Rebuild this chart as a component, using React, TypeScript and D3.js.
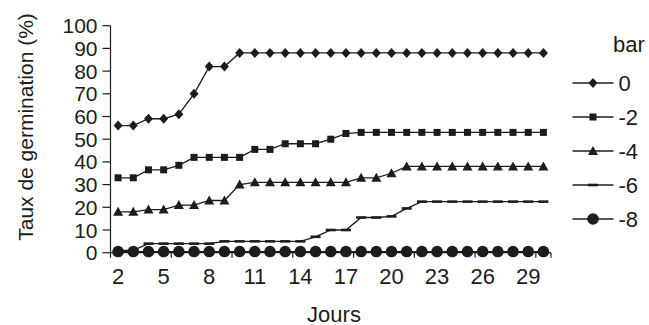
import { useEffect } from "react";
import * as d3 from "d3";

// Jours (catégories de l'axe X)
const days = [2, 3, 4, 5, 6, 7, 8, 9, 10, 11, 12, 13, 14, 15, 16, 17, 18, 19, 20, 21, 22, 23, 24, 25, 26, 27, 28, 29, 30];

// Taux de germination (%) par pression (bar)
const bar0 = [56, 56, 59, 59, 61, 70, 82, 82, 88, 88, 88, 88, 88, 88, 88, 88, 88, 88, 88, 88, 88, 88, 88, 88, 88, 88, 88, 88, 88];
const bar2 = [33, 33, 36.5, 36.5, 38.5, 42, 42, 42, 42, 45.5, 45.5, 48, 48, 48, 50, 52.5, 53, 53, 53, 53, 53, 53, 53, 53, 53, 53, 53, 53, 53];
const bar4 = [18, 18, 19, 19, 21, 21, 23, 23, 30, 31, 31, 31, 31, 31, 31, 31, 33, 33, 35, 38, 38, 38, 38, 38, 38, 38, 38, 38, 38];
const bar6 = [1, 1, 4, 4, 4, 4, 4, 5, 5, 5, 5, 5, 5, 7, 10, 10, 15.5, 15.5, 16, 19.5, 22.5, 22.5, 22.5, 22.5, 22.5, 22.5, 22.5, 22.5, 22.5];
const bar8 = [0.5, 0.5, 0.5, 0.5, 0.5, 0.5, 0.5, 0.5, 0.5, 0.5, 0.5, 0.5, 0.5, 0.5, 0.5, 0.5, 0.5, 0.5, 0.5, 0.5, 0.5, 0.5, 0.5, 0.5, 0.5, 0.5, 0.5, 0.5, 0.5];

const seriesLabels = ["0", "-2", "-4", "-6", "-8"];
const seriesValues = [bar0, bar2, bar4, bar6, bar8];
const markerTypes = ["diamond", "square", "triangle", "dash", "circle"];

const yTicks = [0, 10, 20, 30, 40, 50, 60, 70, 80, 90, 100];
const xLabelDays = [2, 5, 8, 11, 14, 17, 20, 23, 26, 29];

const W = 649;
const H = 325;
const ink = "#1c1c1c";
const font = "'Liberation Sans', Arial, sans-serif";

function Marker({ type, x, y }: { type: string; x: number; y: number }) {
  if (type === "diamond") {
    return <path d={`M${x},${y - 5}L${x + 4.5},${y}L${x},${y + 5}L${x - 4.5},${y}Z`} fill={ink} />;
  }
  if (type === "square") {
    return <rect x={x - 3.5} y={y - 3.5} width={7} height={7} fill={ink} />;
  }
  if (type === "triangle") {
    return <path d={`M${x},${y - 5}L${x + 5},${y + 4}L${x - 5},${y + 4}Z`} fill={ink} />;
  }
  if (type === "dash") {
    return <rect x={x - 5} y={y - 1.3} width={10} height={2.6} fill={ink} />;
  }
  return <circle cx={x} cy={y} r={5.8} fill={ink} />;
}

export default function App() {
  useEffect(() => {
    document.body.style.margin = "0";
  }, []);

  const x = d3.scaleBand<number>().domain(days).range([110.5, 551]).padding(0);
  const y = d3.scaleLinear().domain([0, 100]).range([252.7, 25.7]);
  const cx = (d: number) => x(d)! + x.bandwidth() / 2;

  const line = d3
    .line<number>()
    .x((_, i) => cx(days[i]))
    .y((v) => y(v));

  // tick marks between categories, every 4 categories
  const boundaryTicks = days.filter((_, i) => i % 4 === 0).map((d) => x(d)!);
  boundaryTicks.push(x.range()[1]);

  const legendY = d3.scalePoint<string>().domain(seriesLabels).range([83, 219]);

  return (
    <svg width={W} height={H} style={{ display: "block", background: "#fff" }} fontFamily={font}>
      {/* axes */}
      <line x1={110.5} x2={110.5} y1={y(100)} y2={y(0)} stroke={ink} strokeWidth={1.2} />
      <line x1={110.5} x2={551} y1={y(0)} y2={y(0)} stroke={ink} strokeWidth={1.2} />
      {yTicks.map((t) => (
        <g key={t}>
          <line x1={102.5} x2={110.5} y1={y(t)} y2={y(t)} stroke={ink} strokeWidth={1.2} />
          <text x={97.5} y={y(t)} textAnchor="end" dominantBaseline="central" fontSize={21} fill={ink}>
            {t}
          </text>
        </g>
      ))}
      {boundaryTicks.map((bx, i) => (
        <line key={i} x1={bx} x2={bx} y1={y(0)} y2={y(0) + 5} stroke={ink} strokeWidth={1.2} />
      ))}
      {xLabelDays.map((d) => (
        <text key={d} x={cx(d)} y={276.5} textAnchor="middle" dominantBaseline="central" fontSize={22} fill={ink}>
          {d}
        </text>
      ))}
      <text x={334} y={314} textAnchor="middle" dominantBaseline="central" fontSize={22} fill={ink}>
        Jours
      </text>
      <text
        transform={`translate(25,127) rotate(-90)`}
        textAnchor="middle"
        dominantBaseline="central"
        fontSize={21}
        fill={ink}
      >
        Taux de germination (%)
      </text>

      {/* series */}
      {seriesValues.map((vals, si) => (
        <g key={si}>
          <path d={line(vals) ?? ""} fill="none" stroke={ink} strokeWidth={1.3} />
          {vals.map((v, i) => (
            <Marker key={i} type={markerTypes[si]} x={cx(days[i])} y={y(v)} />
          ))}
        </g>
      ))}

      {/* legend */}
      <text x={613} y={51.5} fontSize={22} fill={ink}>
        bar
      </text>
      {seriesLabels.map((lab, si) => {
        const ly = legendY(lab)!;
        return (
          <g key={lab}>
            <line x1={572.5} x2={613.5} y1={ly} y2={ly} stroke={ink} strokeWidth={1.3} />
            <Marker type={markerTypes[si]} x={593} y={ly} />
            <text x={618.5} y={ly} dominantBaseline="central" fontSize={22} fill={ink}>
              {lab}
            </text>
          </g>
        );
      })}
    </svg>
  );
}
